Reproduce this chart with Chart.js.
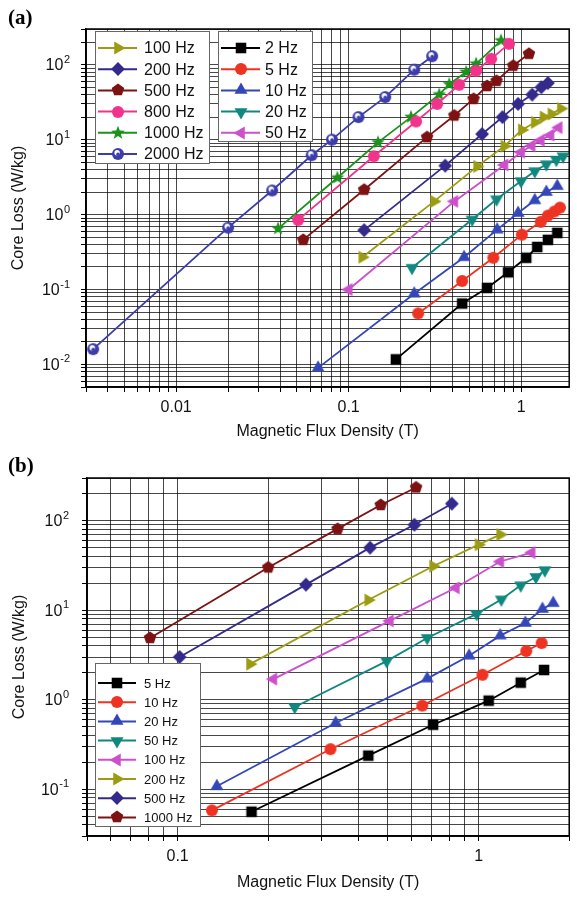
<!DOCTYPE html>
<html>
<head>
<meta charset="utf-8">
<script src="https://cdn.jsdelivr.net/npm/chart.js@4.4.1/dist/chart.umd.min.js"></script>
<style>
  html, body { margin: 0; padding: 0; background: #fff; }
  #wrap { position: relative; width: 577px; height: 898px; overflow: hidden; }
  canvas { position: absolute; left: 0; }
  .tag { position: absolute; left: 8px; font: bold 21px "Liberation Serif", "Times New Roman", serif; line-height: 1; }
</style>
</head>
<body>
<div id="wrap">
  <canvas id="chartA" width="577" height="450" style="top:0"></canvas>
  <canvas id="chartB" width="577" height="448" style="top:450px"></canvas>
  <div class="tag" style="top:7px">(a)</div>
  <div class="tag" style="top:455px">(b)</div>
</div>
<script>
// ---------------- DATA (a) ----------------
const freqA = ["2 Hz", "5 Hz", "10 Hz", "20 Hz", "50 Hz", "100 Hz", "200 Hz", "500 Hz", "800 Hz", "1000 Hz", "2000 Hz"];

const bA2 = [0.188, 0.455, 0.635, 0.84, 1.07, 1.24, 1.43, 1.62];
const pA2 = [0.0117, 0.065, 0.105, 0.17, 0.265, 0.37, 0.46, 0.57];
const bA5 = [0.253, 0.455, 0.69, 1.01, 1.3, 1.43, 1.56, 1.68];
const pA5 = [0.048, 0.13, 0.265, 0.54, 0.8, 0.97, 1.1, 1.24];
const bA10 = [0.0665, 0.24, 0.467, 0.726, 0.96, 1.2, 1.4, 1.62];
const pA10 = [0.009, 0.088, 0.27, 0.63, 1.05, 1.55, 2.0, 2.4];
const bA20 = [0.233, 0.52, 0.72, 1.0, 1.2, 1.4, 1.6, 1.75];
const pA20 = [0.195, 0.86, 1.6, 2.8, 3.8, 4.7, 5.4, 6.0];
const bA50 = [0.1, 0.41, 0.8, 1.0, 1.15, 1.3, 1.48, 1.65];
const pA50 = [0.1, 1.5, 4.6, 6.8, 8.3, 9.8, 11.5, 14.5];
const bA100 = [0.12, 0.313, 0.556, 0.8, 1.01, 1.2, 1.35, 1.5, 1.7];
const pA100 = [0.27, 1.5, 4.4, 8.2, 13.5, 17, 20, 22, 26];
const bA200 = [0.123, 0.363, 0.594, 0.78, 0.96, 1.16, 1.31, 1.43];
const pA200 = [0.62, 4.5, 11.9, 20, 30, 40, 50, 57];
const bA500 = [0.0545, 0.123, 0.285, 0.41, 0.53, 0.635, 0.72, 0.9, 1.11];
const pA500 = [0.46, 2.15, 10.8, 21, 35, 52, 61, 97, 140];
const bA800 = [0.051, 0.14, 0.246, 0.326, 0.437, 0.548, 0.67, 0.85];
const pA800 = [0.85, 6.0, 17.5, 30, 54, 83, 120, 190];
const bA1000 = [0.039, 0.086, 0.148, 0.23, 0.335, 0.383, 0.48, 0.548, 0.765];
const pA1000 = [0.65, 3.1, 9.2, 20, 40, 55, 80, 103, 210];
const bA2000 = [0.0033, 0.02, 0.036, 0.061, 0.08, 0.114, 0.163, 0.24, 0.305];
const pA2000 = [0.016, 0.67, 2.1, 6.2, 10, 20, 37, 86, 130];

const fluxA = [bA2, bA5, bA10, bA20, bA50, bA100, bA200, bA500, bA800, bA1000, bA2000];
const lossA = [pA2, pA5, pA10, pA20, pA50, pA100, pA200, pA500, pA800, pA1000, pA2000];

// ---------------- DATA (b) ----------------
const freqB = ["5 Hz", "10 Hz", "20 Hz", "50 Hz", "100 Hz", "200 Hz", "500 Hz", "1000 Hz"];

const bB5 = [0.176, 0.43, 0.706, 1.08, 1.38, 1.65];
const pB5 = [0.056, 0.237, 0.525, 0.975, 1.55, 2.15];
const bB10 = [0.13, 0.322, 0.65, 1.03, 1.44, 1.62];
const pB10 = [0.058, 0.28, 0.86, 1.9, 3.5, 4.3];
const bB20 = [0.135, 0.335, 0.675, 0.93, 1.18, 1.43, 1.63, 1.77];
const pB20 = [0.108, 0.55, 1.72, 3.1, 5.2, 7.2, 10.3, 12];
const bB50 = [0.245, 0.495, 0.675, 0.985, 1.19, 1.38, 1.55, 1.66];
const pB50 = [0.83, 2.7, 4.9, 9.1, 13.2, 19, 23.5, 28];
const bB100 = [0.208, 0.507, 0.84, 1.18, 1.5];
const pB100 = [1.7, 7.6, 17.8, 35, 44];
const bB200 = [0.174, 0.43, 0.706, 1.0, 1.18];
const pB200 = [2.5, 13, 31, 54, 70];
const bB500 = [0.1016, 0.267, 0.436, 0.612, 0.815];
const pB500 = [3.0, 19.3, 50, 90, 155];
const bB1000 = [0.081, 0.2, 0.34, 0.473, 0.62];
const pB1000 = [4.9, 30, 81, 150, 235];

const fluxB = [bB5, bB10, bB20, bB50, bB100, bB200, bB500, bB1000];
const lossB = [pB5, pB10, pB20, pB50, pB100, pB200, pB500, pB1000];

// ---------------- AXES ----------------
const xDecA = [0.01, 0.1, 1];
const yDecA = [0.01, 0.1, 1, 10, 100];
const xDecB = [0.1, 1];
const yDecB = [0.1, 1, 10, 100];

// colour + marker, in series order
const palette = [
    ["#000000", "square"],
    ["#ee3322", "circle"],
    ["#3347b8", "up"],
    ["#10877f", "down"],
    ["#cc4fcc", "left"],
    ["#9c9c12", "right"],
    ["#332a8c", "diamond"],
    ["#7d1212", "pentagon"],
    ["#f2338c", "circle"],
    ["#1b921b", "star"],
    ["#3c3caa", "sphere"]
];

const FONT = '"Liberation Sans", Arial, sans-serif';

function marker(shape, color, r) {
    const s = Math.ceil(r * 2.6 + 2);
    const c = document.createElement("canvas");
    c.width = s;
    c.height = s;
    const g = c.getContext("2d");
    g.translate(s / 2, s / 2);
    g.fillStyle = color;
    g.beginPath();
    const poly = (n, rot, rr) => {
        for (let i = 0; i < n; i++) {
            const a = rot + i * 2 * Math.PI / n;
            if (i) g.lineTo(rr * Math.cos(a), rr * Math.sin(a));
            else g.moveTo(rr * Math.cos(a), rr * Math.sin(a));
        }
        g.closePath();
    };
    switch (shape) {
        case "square": g.rect(-r * 0.88, -r * 0.88, r * 1.76, r * 1.76); break;
        case "up": poly(3, -Math.PI / 2, r * 1.25); break;
        case "down": poly(3, Math.PI / 2, r * 1.25); break;
        case "left": poly(3, Math.PI, r * 1.25); break;
        case "right": poly(3, 0, r * 1.25); break;
        case "diamond": poly(4, -Math.PI / 2, r * 1.15); break;
        case "pentagon": poly(5, -Math.PI / 2, r * 1.1); break;
        case "star":
            for (let i = 0; i < 10; i++) {
                const a = -Math.PI / 2 + i * Math.PI / 5;
                const rr = i % 2 ? r * 0.5 : r * 1.2;
                if (i) g.lineTo(rr * Math.cos(a), rr * Math.sin(a));
                else g.moveTo(rr * Math.cos(a), rr * Math.sin(a));
            }
            g.closePath();
            break;
        default: g.arc(0, 0, r, 0, 2 * Math.PI);
    }
    g.fill();
    if (shape === "sphere") {
        g.fillStyle = "#ffffff";
        g.beginPath();
        g.arc(-r * 0.15, -r * 0.2, r * 0.45, 0, 2 * Math.PI);
        g.fill();
        g.fillStyle = color;
        g.beginPath();
        g.arc(0, r * 0.05, r * 0.28, 0, 2 * Math.PI);
        g.fill();
    }
    return c;
}

function logTicks(min, max) {
    const out = [];
    for (let e = Math.floor(Math.log10(min)); e <= Math.ceil(Math.log10(max)); e++) {
        for (let m = 1; m <= 9; m++) {
            const v = m * Math.pow(10, e);
            if (v >= min * 0.999 && v <= max * 1.001) out.push({ value: v, major: m === 1 });
        }
    }
    return out;
}

function makeSets(freqs, flux, loss, r) {
    return freqs.map((f, i) => ({
        label: f,
        data: flux[i].map((b, j) => ({ x: b, y: loss[i][j] })),
        borderColor: palette[i][0],
        backgroundColor: palette[i][0],
        borderWidth: 1.8,
        pointStyle: marker(palette[i][1], palette[i][0], r),
        pointRadius: r,
        showLine: true,
        tension: 0
    }));
}

// frame + superscript y labels
const framePlugin = {
    id: "frame",
    afterDatasetsDraw(chart) {
        const a = chart.chartArea;
        const ctx = chart.ctx;
        ctx.save();
        ctx.strokeStyle = "#000";
        ctx.lineWidth = 1.5;
        ctx.strokeRect(a.left, a.top, a.right - a.left, a.bottom - a.top);
        ctx.restore();
    },
    afterDraw(chart, args, opts) {
        const ctx = chart.ctx;
        const y = chart.scales.y;
        const xr = chart.chartArea.left - opts.gap;
        ctx.save();
        ctx.fillStyle = "#111";
        opts.decades.forEach(d => {
            const py = y.getPixelForValue(d);
            const e = String(Math.round(Math.log10(d)));
            ctx.font = "11px " + FONT;
            const ew = ctx.measureText(e).width;
            ctx.textAlign = "left";
            ctx.textBaseline = "alphabetic";
            ctx.fillText(e, xr - ew, py - 2);
            ctx.font = "16px " + FONT;
            ctx.textAlign = "right";
            ctx.textBaseline = "middle";
            ctx.fillText("10", xr - ew - 0.5, py + 1);
        });
        ctx.restore();
    }
};

const boxLegend = {
    id: "boxLegend",
    afterDraw(chart, args, opts) {
        const ctx = chart.ctx;
        opts.boxes.forEach(b => {
            ctx.save();
            ctx.fillStyle = "#fff";
            ctx.fillRect(b.x, b.y, b.w, b.h);
            ctx.strokeStyle = "#666";
            ctx.lineWidth = 1;
            ctx.strokeRect(b.x + 0.5, b.y + 0.5, b.w, b.h);
            ctx.font = b.font + "px " + FONT;
            ctx.textBaseline = "middle";
            ctx.textAlign = "left";
            b.items.forEach((di, i) => {
                const ds = chart.data.datasets[di];
                const cy = b.y + b.first + i * b.step;
                ctx.strokeStyle = ds.borderColor;
                ctx.lineWidth = 2;
                ctx.beginPath();
                ctx.moveTo(b.x + 3, cy);
                ctx.lineTo(b.x + 3 + b.line, cy);
                ctx.stroke();
                const img = ds.pointStyle;
                ctx.drawImage(img, Math.round(b.x + 3 + b.line / 2 - img.width / 2), Math.round(cy - img.height / 2));
                ctx.fillStyle = "#111";
                ctx.fillText(ds.label, b.x + b.text, cy + 1);
            });
            ctx.restore();
        });
    }
};

function axis(min, max, decades, fitFn, title, titlePad) {
    return {
        type: "logarithmic",
        min: min,
        max: max,
        afterBuildTicks: s => { s.ticks = logTicks(min, max); },
        afterFit: fitFn,
        ticks: {
            autoSkip: false,
            maxRotation: 0,
            padding: 6,
            color: "#111",
            font: { family: FONT, size: 16 },
            callback: (v, i, ticks) => {
                if (!decades) return "";
                const d = decades.find(k => Math.abs(v / k - 1) < 1e-6);
                return d ? String(d) : "";
            }
        },
        grid: { color: "rgba(0,0,0,0.72)", lineWidth: 1, tickLength: 5, tickColor: "#000" },
        border: { color: "#000", width: 1.5 },
        title: { display: true, text: title, color: "#111", font: { family: FONT, size: 16 }, padding: titlePad }
    };
}

function makeChart(id, sets, cfg) {
    return new Chart(document.getElementById(id), {
        type: "scatter",
        data: { datasets: sets },
        options: {
            responsive: false,
            animation: false,
            devicePixelRatio: 1,
            events: [],
            layout: { padding: cfg.pad },
            plugins: {
                legend: { display: false },
                tooltip: { enabled: false },
                frame: { decades: cfg.yDec, gap: cfg.gap },
                boxLegend: { boxes: cfg.boxes }
            },
            scales: {
                x: axis(cfg.xMin, cfg.xMax, cfg.xDec, s => { s.height = cfg.xH; },
                    "Magnetic Flux Density (T)", { top: 0, bottom: cfg.xTitlePad }),
                y: axis(cfg.yMin, cfg.yMax, null, s => { s.width = cfg.yW; },
                    "Core Loss (W/kg)", { top: cfg.yTitlePad, bottom: 0 })
            }
        },
        plugins: [framePlugin, boxLegend]
    });
}

// ---------------- CHART (a) ----------------
makeChart("chartA", makeSets(freqA, fluxA, lossA, 6), {
    pad: { left: 0, right: 6, top: 29, bottom: 0 },
    xMin: 0.003, xMax: 1.9, yMin: 0.005, yMax: 300,
    xDec: xDecA, yDec: yDecA,
    xH: 63, yW: 86, gap: 16,
    xTitlePad: 9, yTitlePad: 9,
    boxes: [
        { x: 95, y: 31, w: 114, h: 132, first: 17, step: 21.2, line: 39, text: 49, font: 16, items: [5, 6, 7, 8, 9, 10] },
        { x: 218, y: 31, w: 94, h: 110, first: 17, step: 21.2, line: 39, text: 47, font: 16, items: [0, 1, 2, 3, 4] }
    ]
});

// ---------------- CHART (b) ----------------
makeChart("chartB", makeSets(freqB, fluxB, lossB, 6), {
    pad: { left: 0, right: 0, top: 28, bottom: 0 },
    xMin: 0.05, xMax: 2, yMin: 0.03, yMax: 300,
    xDec: xDecB, yDec: yDecB,
    xH: 62, yW: 87, gap: 18,
    xTitlePad: 6, yTitlePad: 10,
    boxes: [
        { x: 95, y: 213, w: 105, h: 163, first: 20, step: 19.2, line: 38, text: 49, font: 13, items: [0, 1, 2, 3, 4, 5, 6, 7] }
    ]
});
</script>
</body>
</html>
